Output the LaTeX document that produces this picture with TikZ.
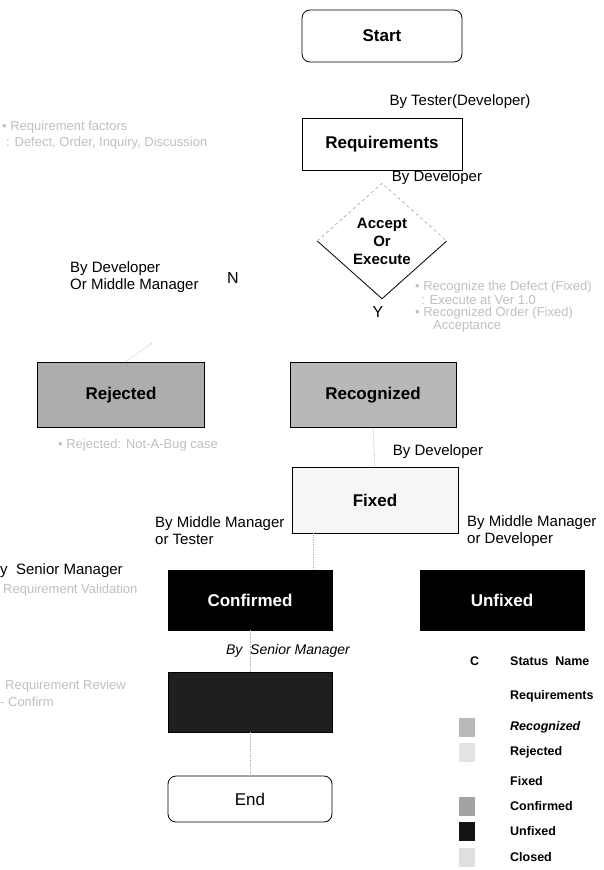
\documentclass[tikz,border=0pt]{standalone}
\usepackage{fontspec}
\setmainfont{Liberation Sans}
\usetikzlibrary{shapes.geometric,calc}
\tikzset{
  statebox/.style={draw, line width=0.8pt, minimum width=164pt, minimum height=60pt, inner sep=2pt, font=\fontsize{17}{19}\selectfont\bfseries},
  endbox/.style={statebox, rounded corners=8pt},
  byline/.style={font=\fontsize{15}{17}\selectfont, align=left, inner sep=0pt},
  note/.style={font=\fontsize{13}{15}\selectfont, text=gray!50, inner sep=0pt, anchor=west},
  conn/.style={gray!55, densely dotted, line width=0.7pt},
  legend/.style={font=\fontsize{12.5}{14}\selectfont\bfseries, inner sep=0pt, anchor=west},
  swatch/.style={minimum width=16pt, minimum height=19pt, inner sep=0pt}
}
\begin{document}
\begin{tikzpicture}[x=1pt, y=-1pt]
  \useasboundingbox (0,0) rectangle (604,870);

  % Start and requirements
  \node[endbox, minimum width=160pt, minimum height=52pt] (start) at (382,36) {Start};
  \node[byline] (bytester) at (460,102) {By Tester(Developer)};
  \node[statebox, minimum width=160pt, minimum height=52pt] (req) at (382,144) {Requirements};
  \node[note] (reqnote1) at (2,127) {• Requirement factors};
  \node[note] (reqnote2) at (6,143) {: Defect, Order, Inquiry, Discussion};
  \node[byline] (bydev1) at (437,178) {By Developer};

  % Decision
  \node[diamond, aspect=1.12, minimum width=129pt, minimum height=115pt, inner sep=0pt,
        font=\fontsize{15}{18}\selectfont\bfseries, align=center] (dec) at (382,241) {Accept\\Or\\Execute};
  \draw[line width=0.8pt] (dec.west) -- (dec.south) -- (dec.east);
  \draw[gray, dashed] (dec.west) -- (dec.north) -- (dec.east);
  \node[byline, anchor=west] (bymid1) at (70,277) {By Developer\\Or Middle Manager};
  \node[byline, font=\fontsize{16}{18}\selectfont] (no) at (233,278) {N};
  \node[byline, font=\fontsize{16}{18}\selectfont] (yes) at (378,312) {Y};
  \node[note] (recnote1) at (415,287) {• Recognize the Defect (Fixed)};
  \node[note] (recnote2) at (421,300) {: Execute at Ver 1.0};
  \node[note] (recnote3) at (415,313) {• Recognized Order (Fixed)};
  \node[note] (recnote4) at (433,326) {Acceptance};

  % Rejected / recognized
  \node[statebox, fill=gray!64, minimum width=167pt, minimum height=65pt] (rej) at (121,395) {Rejected};
  \node[statebox, fill=gray!56, minimum width=166pt, minimum height=65pt] (recog) at (373,395) {Recognized};
  \node[note] (rejnote) at (58,445) {• Rejected: Not-A-Bug case};
  \node[byline] (bydev2) at (438,452) {By Developer};

  % Fixed
  \node[statebox, fill=gray!7, minimum width=166pt, minimum height=66pt] (fixed) at (375,500) {Fixed};
  \node[byline, anchor=west] (bymid2) at (155,531) {By Middle Manager\\or Tester};
  \node[byline, anchor=west] (bymid3) at (467,531) {By Middle Manager\\or Developer};

  % Confirmed / unfixed
  \node[byline, anchor=west] (bysen1) at (-10,571) {By\ \ Senior Manager};
  \node[note] (valnote) at (3,590) {Requirement Validation};
  \node[statebox, fill=black, text=white] (confirmed) at (250,600) {Confirmed};
  \node[statebox, fill=black, text=white] (unfixed) at (502,600) {Unfixed};

  % Closed and end
  \node[byline, font=\fontsize{14}{16}\selectfont\itshape] (bysen2) at (288,651) {By\ \ Senior Manager};
  \node[statebox, fill=black!88] (closed) at (250,702) {};
  \node[note] (revnote1) at (5,686) {Requirement Review};
  \node[note] (revnote2) at (0,702) {- Confirm};
  \node[endbox, minimum height=46pt, font=\fontsize{17}{19}\selectfont] (end) at (250,799) {End};

  % Connectors
  \draw[conn] (recog.south) -- (fixed.north);
  \coordinate (fc) at ([xshift=-19pt]confirmed.north east);
  \draw[conn] (fc |- fixed.south) -- (fc);
  \draw[conn] (confirmed.south) -- (closed.north);
  \draw[conn] (closed.south) -- (end.north);
  \coordinate (rejtail) at (152,343);
  \draw[conn] ([xshift=4pt]rej.north) -- (rejtail);

  % Legend
  \node[legend] (legc) at (470,661) {C};
  \node[legend] (legname) at (510,661) {Status\ \ Name};
  \foreach \ypos/\lab in {696/Requirements, 727/{\itshape Recognized}, 752/Rejected, 781/Fixed, 806/Confirmed, 831/Unfixed, 857/Closed}
    \node[legend] (leg\ypos) at (510,\ypos) {\lab};
  \foreach \ypos/\col in {727/gray!55, 752/gray!22, 806/gray!72, 831/black!92, 857/gray!25}
    \node[swatch, fill=\col] (sw\ypos) at (467,\ypos) {};
\end{tikzpicture}
\end{document}
